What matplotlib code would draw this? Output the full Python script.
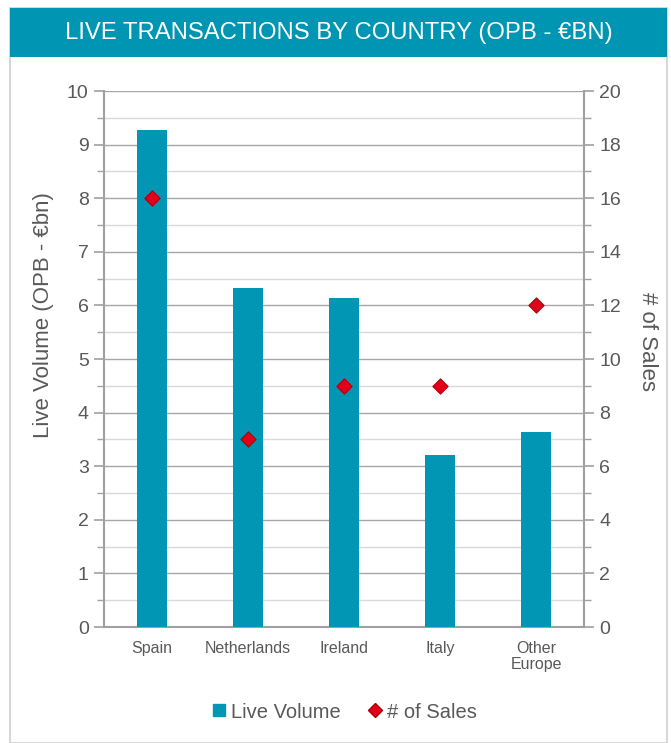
import matplotlib
matplotlib.use("Agg")
import matplotlib.pyplot as plt
from matplotlib.patches import Rectangle
from matplotlib.lines import Line2D
from matplotlib.ticker import MultipleLocator

plt.rcParams['font.family'] = ['Liberation Sans', 'DejaVu Sans']

categories = ["Spain", "Netherlands", "Ireland", "Italy", "Other\nEurope"]
live_volume = [9.28, 6.33, 6.13, 3.20, 3.63]
num_sales = [16, 7, 9, 9, 12]
title = "LIVE TRANSACTIONS BY COUNTRY (OPB - €BN)"

W, H = 671, 743
fig = plt.figure(figsize=(W/100, H/100), dpi=100)

teal = "#0096B4"
red = "#E0001B"
txt = "#595959"

# outer border box
fig.patches.append(Rectangle((10/W, 0), (667-10)/W, (743-8)/H, transform=fig.transFigure,
                             facecolor="white", edgecolor="#d0d0d0", lw=1.2, zorder=0))
# title band
fig.patches.append(Rectangle((10/W, 1-57/H), (667-10)/W, (57-8)/H, transform=fig.transFigure,
                             facecolor="#0095B3", edgecolor="none", zorder=1))
fig.text((10+667)/2/W, 1-33/H, title, color="white", fontsize=17.2, ha="center", va="center")

x0, x1 = 104, 584
y0, y1 = 91, 627
ax = fig.add_axes([x0/W, 1-y1/H, (x1-x0)/W, (y1-y0)/H])
ax.set_zorder(2)
ax.patch.set_visible(False)
ax2 = ax.twinx()

xs = list(range(len(categories)))
ax.bar(xs, live_volume, width=0.31, color=teal, zorder=3, label="Live Volume")
ax.set_xlim(-0.5, len(categories)-0.5)
ax.set_ylim(0, 10)
ax.yaxis.set_major_locator(MultipleLocator(1))
ax.yaxis.set_minor_locator(MultipleLocator(0.5))
ax.grid(True, which="major", axis="y", color="#a6a6a6", lw=1.0, zorder=0)
ax.grid(True, which="minor", axis="y", color="#d9d9d9", lw=1.0, zorder=0)
ax.set_axisbelow(True)

ax2.scatter(xs, num_sales, marker="D", s=60, color=red, edgecolor="#B00000", lw=0.8, zorder=5, label="# of Sales")
ax2.set_ylim(0, 20)
ax2.yaxis.set_major_locator(MultipleLocator(2))
ax2.yaxis.set_minor_locator(MultipleLocator(1))

for a in (ax, ax2):
    for s in a.spines.values():
        s.set_visible(False)
ax.spines['left'].set_visible(True)
ax.spines['bottom'].set_visible(True)
ax2.spines['right'].set_visible(True)
for s in (ax.spines['left'], ax.spines['bottom'], ax2.spines['right']):
    s.set_color("#a0a0a0")
    s.set_linewidth(1.5)

ax.tick_params(axis="y", which="major", length=7, width=1.2, color="#a0a0a0", labelsize=14, labelcolor=txt, pad=4)
ax.tick_params(axis="y", which="minor", length=5, width=1.0, color="#a0a0a0")
ax2.tick_params(axis="y", which="major", length=7, width=1.2, color="#a0a0a0", labelsize=14, labelcolor=txt, pad=4)
ax2.tick_params(axis="y", which="minor", length=5, width=1.0, color="#a0a0a0")
ax.set_xticks(xs)
ax.set_xticklabels(categories, fontsize=11.5, color=txt, linespacing=1.1)
ax.tick_params(axis="x", length=0, pad=10)

fig.text(44/W, 1-315/H, "Live Volume (OPB - €bn)", fontsize=16, color=txt, rotation=90,
         ha="center", va="center")
fig.text(647/W, 1-342/H, "# of Sales", fontsize=16, color=txt, rotation=-90,
         ha="center", va="center")

handles = [Line2D([], [], marker="s", ls="none", color=teal, markersize=9),
           Line2D([], [], marker="D", ls="none", color=red, markeredgecolor="#B00000", markersize=7)]
fig.legend(handles, ["Live Volume", "# of Sales"], loc="center", bbox_to_anchor=(343/W, 1-712/H),
           ncol=2, frameon=False, fontsize=14.5, labelcolor=txt, handletextpad=0.1, columnspacing=1.2,
           handlelength=1.0)

fig.savefig("out.png", dpi=100)
